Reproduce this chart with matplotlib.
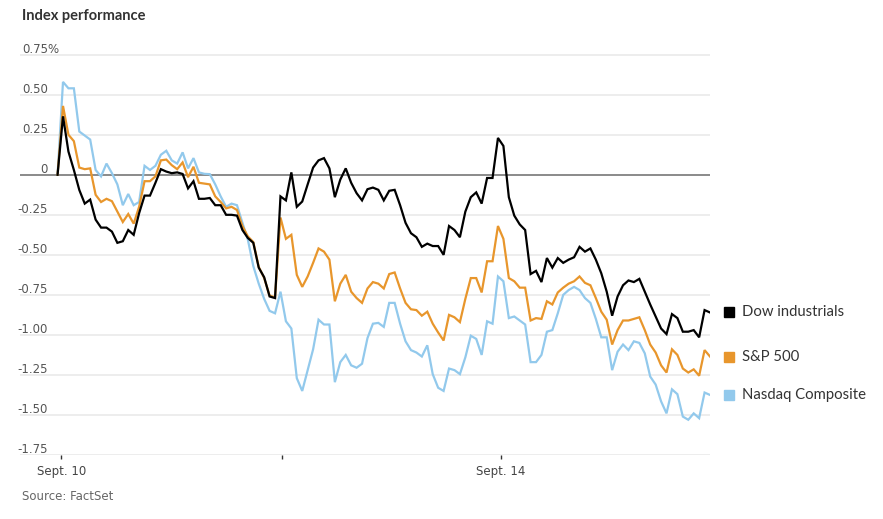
import matplotlib
matplotlib.use("Agg")
import matplotlib.pyplot as plt
import matplotlib.transforms as mtransforms

# values, % change, one point per interval
dow = [0, 0.365, 0.145, 0.03, -0.095, -0.18, -0.155, -0.28, -0.33, -0.33,
       -0.355, -0.425, -0.415, -0.345, -0.375, -0.24, -0.13, -0.13, -0.05, 0.035,
       0.02, 0.01, 0.015, 0.005, -0.085, -0.04, -0.15, -0.15, -0.145, -0.19,
       -0.19, -0.25, -0.25, -0.255, -0.345, -0.395, -0.425, -0.58, -0.64, -0.76,
       -0.77, -0.135, -0.16, 0.015, -0.2, -0.167, -0.06, 0.045, 0.09, 0.104,
       0.04, -0.14, -0.03, 0.04, -0.05, -0.115, -0.16, -0.09, -0.08, -0.094,
       -0.16, -0.1, -0.094, -0.19, -0.3, -0.365, -0.39, -0.45, -0.43, -0.445,
       -0.445, -0.5, -0.32, -0.345, -0.39, -0.23, -0.14, -0.11, -0.18, -0.02,
       -0.02, 0.23, 0.18, -0.14, -0.255, -0.31, -0.345, -0.62, -0.6, -0.67,
       -0.52, -0.58, -0.52, -0.55, -0.53, -0.515, -0.45, -0.48, -0.46, -0.53,
       -0.615, -0.73, -0.88, -0.76, -0.69, -0.66, -0.67, -0.65, -0.73, -0.81,
       -0.885, -0.96, -0.995, -0.87, -0.895, -0.98, -0.98, -0.97, -1.015, -0.845,
       -0.86]

sp500 = [0, 0.43, 0.25, 0.21, 0.045, 0.035, 0.04, -0.125, -0.17, -0.15,
         -0.165, -0.23, -0.295, -0.245, -0.305, -0.2, -0.04, -0.04, -0.01, 0.09,
         0.095, 0.06, 0.035, 0.077, -0.015, 0.05, -0.05, -0.055, -0.06, -0.135,
         -0.17, -0.21, -0.2, -0.22, -0.32, -0.385, -0.42, -0.575, -0.645, -0.755,
         -0.765, -0.267, -0.4, -0.375, -0.625, -0.7, -0.635, -0.55, -0.46, -0.48,
         -0.53, -0.79, -0.68, -0.625, -0.73, -0.77, -0.8, -0.71, -0.67, -0.68,
         -0.71, -0.62, -0.61, -0.71, -0.8, -0.84, -0.845, -0.88, -0.855, -0.93,
         -0.985, -1.035, -0.875, -0.89, -0.92, -0.775, -0.645, -0.645, -0.735, -0.54,
         -0.54, -0.32, -0.4, -0.645, -0.665, -0.705, -0.705, -0.91, -0.895, -0.9,
         -0.79, -0.81, -0.735, -0.705, -0.68, -0.665, -0.635, -0.675, -0.69, -0.77,
         -0.855, -0.905, -1.06, -0.97, -0.91, -0.91, -0.9, -0.89, -0.97, -1.06,
         -1.11, -1.19, -1.235, -1.09, -1.125, -1.21, -1.235, -1.215, -1.255, -1.095,
         -1.135]

nasdaq = [0, 0.58, 0.54, 0.54, 0.27, 0.245, 0.22, 0.03, -0.01, 0.07,
          0.01, -0.06, -0.19, -0.12, -0.19, -0.17, 0.056, 0.03, 0.056, 0.125,
          0.15, 0.09, 0.07, 0.14, 0.04, 0.104, 0.015, 0.006, 0.004, -0.06,
          -0.135, -0.2, -0.18, -0.19, -0.3, -0.405, -0.57, -0.68, -0.775, -0.85,
          -0.865, -0.73, -0.915, -0.96, -1.27, -1.35, -1.22, -1.09, -0.905, -0.935,
          -0.935, -1.295, -1.17, -1.125, -1.19, -1.205, -1.18, -1.02, -0.93, -0.925,
          -0.95, -0.8, -0.8, -0.93, -1.04, -1.095, -1.11, -1.135, -1.065, -1.245,
          -1.33, -1.35, -1.21, -1.22, -1.245, -1.14, -1.005, -1.025, -1.125, -0.915,
          -0.93, -0.635, -0.665, -0.895, -0.885, -0.91, -0.935, -1.17, -1.17, -1.125,
          -0.98, -0.97, -0.865, -0.75, -0.72, -0.7, -0.72, -0.77, -0.8, -0.9,
          -1.015, -1.015, -1.22, -1.105, -1.06, -1.095, -1.04, -1.05, -1.115, -1.26,
          -1.31, -1.415, -1.49, -1.34, -1.37, -1.51, -1.53, -1.49, -1.52, -1.36,
          -1.375]

labels = ["Dow industrials", "S&P 500", "Nasdaq Composite"]
colors = ["#000000", "#e8962c", "#92c9ec"]

ytick_vals = [0.75, 0.5, 0.25, 0, -0.25, -0.5, -0.75, -1.0, -1.25, -1.5, -1.75]
xtick_pos = [0.7, 41.2, 81.5]
xtick_labels = ["Sept. 10", "", "Sept. 14"]

narrow = ["Liberation Sans Narrow", "DejaVu Sans"]

fig = plt.figure(figsize=(8.83, 5.19), dpi=100)
ax = fig.add_axes([0.0227, 0.1233, 0.7814, 0.7806])
ax.set_xlim(-6.9, 120)
ax.set_ylim(-1.75, 0.78)

# gridlines
for v in ytick_vals:
    if v == 0:
        ax.axhline(v, color="#8a8a8a", lw=1.4, zorder=2)
    else:
        ax.axhline(v, color="#ececec", lw=1.3, zorder=1)

x = list(range(len(dow)))
series = [dow, sp500, nasdaq]
for vals, c, z in zip(series[::-1], colors[::-1], [3, 4, 5]):
    ax.plot(x, vals, color=c, lw=1.6, zorder=z, solid_joinstyle="miter")

# y labels sit above their gridlines
trans = mtransforms.blended_transform_factory(fig.transFigure, ax.transData)
off = mtransforms.offset_copy(trans, fig=fig, x=0, y=-1, units="points")
for v in ytick_vals:
    txt = "0" if v == 0 else f"{v:.2f}"
    ax.text(48 / 883, v, txt, transform=off, ha="right", va="bottom",
            fontsize=8.5, color="#555555", family=narrow)
ax.text(47 / 883, 0.75, "%", transform=off, ha="left", va="bottom",
        fontsize=8.5, color="#555555", family=narrow)

# x axis ticks
for s in ax.spines.values():
    s.set_visible(False)
ax.set_yticks([])
ax.set_xticks(xtick_pos)
ax.set_xticklabels(xtick_labels, fontsize=8.5, color="#444444", family=narrow)
ax.tick_params(axis="x", length=3, width=1, color="#333333", pad=4)

# legend labels next to the line ends
for vals, lab, c in zip(series, labels, colors):
    ax.plot([123.5], [vals[-1]], marker="s", ms=7, color=c, clip_on=False,
            linestyle="none")
    ax.text(125.8, vals[-1], lab, fontsize=10.7, color="#333333", va="center",
            family=["Lato", "DejaVu Sans"], clip_on=False)

fig.text(22 / 883, 1 - 16 / 519, "Index performance", fontsize=10.5,
         fontweight="bold", color="#333333", va="center",
         family=["Lato", "DejaVu Sans"])
fig.text(22 / 883, 1 - 496 / 519, "Source: FactSet", fontsize=8.5,
         color="#666666", va="center", family=narrow)

fig.savefig("out.png", dpi=100)
